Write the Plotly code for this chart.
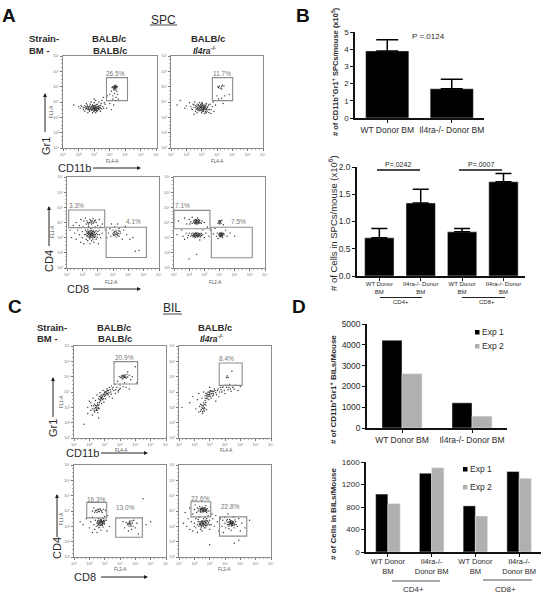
import plotly.graph_objects as go

# ---------- bar data ----------
b1_labels = ["WT Donor BM", "Il4ra-/- Donor BM"]
b1_values = [3.9, 1.7]
b1_err = [0.65, 0.55]
b1_ticks = [0, 1, 2, 3, 4, 5]

b2_labels = ["WT Donor<br>BM", "Il4ra-/- Donor<br>BM", "WT Donor<br>BM", "Il4ra-/- Donor<br>BM"]
b2_values = [0.70, 1.34, 0.81, 1.73]
b2_err = [0.17, 0.25, 0.06, 0.15]
b2_ticks = [0.0, 0.5, 1.0, 1.5, 2.0]

d1_labels = ["WT Donor BM", "Il4ra-/- Donor BM"]
d1_exp1 = [4220, 1210]
d1_exp2 = [2610, 570]
d1_ticks = [0, 1000, 2000, 3000, 4000, 5000]

d2_labels = ["WT Donor<br>BM", "Il4ra-/-<br>Donor BM", "WT Donor<br>BM", "Il4ra-/-<br>Donor BM"]
d2_exp1 = [1030, 1400, 820, 1430]
d2_exp2 = [860, 1500, 640, 1310]
d2_ticks = [0, 400, 800, 1200, 1600]

# ---------- flow cytometry events (log10 units) ----------
A1 = [(1.7,3.8),(2.0,3.7),(2.1,3.6),(2.2,3.7),(2.3,3.5),(2.35,3.65),(2.4,3.75),(2.45,3.55),(2.5,3.65),(2.55,3.8),(2.6,3.5),(2.6,3.6),(2.65,3.7),(2.7,3.4),(2.7,3.55),(2.75,3.65),(2.75,3.85),(2.8,3.6),(2.85,3.5),(2.85,3.7),(2.9,3.3),(2.9,3.6),(2.9,3.8),(2.95,3.55),(2.95,3.65),(3.0,3.45),(3.0,3.6),(3.0,3.7),(3.0,3.95),(3.05,3.5),(3.05,3.65),(3.1,3.55),(3.1,3.75),(3.1,4.1),(3.15,3.6),(3.15,3.4),(3.2,3.7),(3.2,3.85),(3.25,3.5),(3.3,3.65),(3.3,4.0),(3.35,3.75),(3.4,3.6),(3.45,3.9),(3.5,4.1),(3.55,3.7),(3.6,4.3),(3.7,3.85),(3.8,3.6),(3.85,4.4),(4.0,3.9),(4.1,3.5),(4.0,4.5),(4.1,4.7),(4.15,4.95),(4.2,5.0),(4.25,4.85),(4.3,5.0),(4.3,4.9),(4.35,5.05),(4.35,4.95),(4.4,4.8),(4.4,5.1),(4.45,4.95),(4.5,5.0),(4.2,4.4),(4.4,4.3),(4.35,4.1),(4.5,4.5),(4.25,3.8),(2.5,3.9),(2.8,4.0),(2.6,3.3),(3.1,3.3),(2.4,3.4),(3.4,3.4),(3.0,4.2),(2.65,3.55),(2.95,3.75),(3.1,3.62)]
A1_core = [(2.52,3.58),(2.58,3.72),(2.63,3.62),(2.68,3.48),(2.72,3.74),(2.77,3.52),(2.82,3.68),(2.83,3.44),(2.87,3.6),(2.88,3.78),(2.92,3.48),(2.93,3.7),(2.97,3.6),(2.98,3.38),(3.02,3.53),(3.02,3.78),(3.04,3.58),(3.06,3.44),(3.08,3.68),(3.09,3.5),(3.12,3.6),(3.13,3.82),(3.14,3.47),(3.17,3.67),(3.18,3.54),(3.22,3.6),(3.23,3.43),(3.27,3.72),(3.28,3.58),(3.33,3.52),(3.37,3.66),(3.42,3.78),(3.48,3.55),(3.6,3.6),(3.65,3.95),(2.45,3.7),(2.3,3.62),(2.15,3.78),(4.22,4.93),(4.27,5.03),(4.32,4.96),(4.33,5.08),(4.37,5.0),(4.38,4.9),(4.42,5.02),(4.28,4.78),(4.45,4.7),(4.3,4.55),(4.2,4.2),(4.55,4.2)]
A2 = [(1.4,3.8),(1.6,4.1),(1.9,3.6),(2.0,3.75),(2.2,3.95),(2.3,3.7),(2.4,3.5),(2.45,3.85),(2.5,3.65),(2.55,4.0),(2.6,3.4),(2.6,3.75),(2.65,3.55),(2.7,3.85),(2.7,3.3),(2.75,3.65),(2.8,3.5),(2.8,3.8),(2.85,3.95),(2.85,3.6),(2.9,3.45),(2.9,3.7),(2.95,3.85),(2.95,3.55),(3.0,3.3),(3.0,3.65),(3.0,3.75),(3.05,3.5),(3.05,3.9),(3.1,3.6),(3.1,3.7),(3.1,3.4),(3.15,3.8),(3.15,3.55),(3.2,3.65),(3.2,3.25),(3.25,3.75),(3.25,3.5),(3.3,3.9),(3.3,3.6),(3.35,3.4),(3.4,3.7),(3.5,3.5),(3.55,3.85),(3.7,3.7),(3.8,3.4),(3.9,3.8),(3.75,4.0),(4.1,4.2),(4.3,4.25),(4.0,4.4),(4.5,4.4),(4.8,4.5),(4.4,3.9),(4.05,5.0),(4.1,4.95),(4.15,5.05),(4.2,4.9),(4.3,5.0),(4.35,5.1),(4.45,5.05),(4.3,4.85),(3.3,3.3),(2.5,3.2),(3.6,3.25),(3.0,3.95)]
A2_core = [(2.62,3.62),(2.68,3.72),(2.72,3.48),(2.74,3.58),(2.78,3.76),(2.82,3.62),(2.83,3.42),(2.87,3.74),(2.88,3.52),(2.92,3.64),(2.93,3.8),(2.97,3.46),(2.98,3.7),(3.02,3.56),(3.03,3.82),(3.04,3.38),(3.07,3.66),(3.08,3.5),(3.09,3.76),(3.12,3.56),(3.13,3.46),(3.14,3.68),(3.17,3.6),(3.18,3.74),(3.22,3.52),(3.23,3.62),(3.24,3.36),(3.27,3.68),(3.28,3.8),(3.32,3.5),(3.37,3.62),(3.42,3.52),(3.45,3.8),(3.47,3.32),(2.5,3.8),(2.35,3.55),(3.62,3.5)]
A3 = [(1.2,3.5),(1.3,3.0),(1.4,3.8),(1.5,3.3),(1.6,4.0),(1.6,2.9),(1.7,3.5),(1.8,3.2),(1.8,3.8),(1.9,2.7),(1.9,4.2),(2.0,3.4),(2.0,3.0),(2.05,3.7),(2.1,4.1),(2.1,2.6),(2.15,3.2),(2.2,3.5),(2.2,4.3),(2.25,2.9),(2.25,3.9),(2.3,3.3),(2.3,3.1),(2.3,4.1),(2.35,3.5),(2.35,2.8),(2.4,3.2),(2.4,3.35),(2.4,3.75),(2.45,3.0),(2.45,3.25),(2.45,4.0),(2.5,3.1),(2.5,3.3),(2.5,3.45),(2.5,4.2),(2.5,2.6),(2.55,3.2),(2.55,3.0),(2.55,3.6),(2.6,3.3),(2.6,3.15),(2.6,4.05),(2.6,2.8),(2.65,3.4),(2.65,3.25),(2.7,3.05),(2.7,3.5),(2.7,3.95),(2.7,4.25),(2.75,3.2),(2.75,2.7),(2.8,3.35),(2.8,3.0),(2.8,4.1),(2.85,3.7),(2.85,3.2),(2.9,3.45),(2.9,2.9),(2.9,4.0),(3.0,3.2),(3.0,3.8),(3.05,2.6),(3.1,3.5),(3.1,4.2),(3.2,3.0),(3.2,3.7),(3.3,3.3),(3.3,3.9),(3.5,3.5),(3.6,3.0),(3.7,3.3),(3.8,3.6),(3.85,3.1),(3.9,3.9),(4.0,3.3),(4.0,3.5),(4.05,3.15),(4.1,3.4),(4.1,3.7),(4.15,3.25),(4.2,3.05),(4.2,3.5),(4.25,3.35),(4.3,3.2),(4.3,3.9),(4.35,3.45),(4.4,3.1),(4.4,3.6),(4.5,3.3),(4.6,2.9),(4.7,3.5),(4.9,3.2),(5.1,2.9),(5.3,3.0),(5.45,2.1),(5.7,2.15),(4.8,3.75)]
A3_core = [(2.22,3.22),(2.27,3.4),(2.32,3.15),(2.33,3.28),(2.37,3.38),(2.38,3.05),(2.42,3.24),(2.43,3.42),(2.47,3.12),(2.47,3.3),(2.48,2.92),(2.52,3.22),(2.52,3.38),(2.53,3.08),(2.57,3.28),(2.57,3.12),(2.58,3.48),(2.62,3.2),(2.62,3.36),(2.63,3.02),(2.67,3.14),(2.67,3.3),(2.68,2.9),(2.72,3.24),(2.72,3.42),(2.73,3.1),(2.77,3.32),(2.78,3.05),(2.82,3.2),(2.83,3.4),(2.87,3.1),(2.92,3.28),(2.97,3.02),(3.02,3.4),(3.12,3.2),(2.35,4.0),(2.4,3.9),(2.55,4.12),(2.6,3.9),(2.65,4.1),(2.75,4.02),(2.85,4.15),(2.5,3.98),(4.02,3.22),(4.08,3.32),(4.12,3.18),(4.18,3.4),(4.22,3.22),(4.28,3.3),(4.32,3.12),(4.38,3.28),(4.45,3.42)]
A4 = [(1.2,3.2),(1.3,4.1),(1.5,3.5),(1.6,3.1),(1.7,4.3),(1.7,2.9),(1.8,3.3),(1.85,3.9),(1.9,3.0),(1.95,3.15),(2.0,4.2),(2.0,3.3),(2.05,3.9),(2.1,3.1),(2.1,4.05),(2.15,3.25),(2.2,3.15),(2.2,3.95),(2.2,4.35),(2.25,3.05),(2.25,3.3),(2.3,4.1),(2.3,3.2),(2.35,3.95),(2.35,3.1),(2.4,4.2),(2.4,3.25),(2.4,3.0),(2.45,4.05),(2.45,3.9),(2.45,3.35),(2.5,3.15),(2.5,4.15),(2.5,3.95),(2.55,3.2),(2.55,3.05),(2.55,4.3),(2.6,4.05),(2.6,3.3),(2.65,3.15),(2.65,3.95),(2.7,4.15),(2.7,3.2),(2.7,2.85),(2.75,3.05),(2.8,3.95),(2.8,3.3),(2.85,4.1),(2.9,3.2),(2.9,3.5),(3.0,3.0),(3.0,4.0),(3.1,3.3),(3.2,3.7),(3.3,3.1),(3.4,3.5),(3.6,3.25),(3.7,3.6),(3.8,3.1),(3.85,3.3),(3.9,3.95),(3.9,2.95),(3.95,3.2),(3.95,4.1),(4.0,3.3),(4.0,3.9),(4.0,3.05),(4.05,3.15),(4.05,4.05),(4.1,3.25),(4.1,3.35),(4.1,3.95),(4.1,3.1),(4.15,3.2),(4.15,4.15),(4.2,3.3),(4.2,3.0),(4.25,3.85),(4.3,3.2),(4.4,3.5),(4.5,3.1),(4.7,3.3),(5.0,3.1),(2.0,1.6),(2.5,1.9)]
A4_core = [(2.32,4.02),(2.37,4.12),(2.42,3.98),(2.43,4.1),(2.47,4.18),(2.48,4.02),(2.52,4.08),(2.53,3.9),(2.57,4.14),(2.58,3.98),(2.62,4.2),(2.63,4.0),(2.67,4.08),(2.72,3.98),(2.27,3.15),(2.32,3.28),(2.33,3.08),(2.37,3.22),(2.38,3.14),(2.42,3.3),(2.43,3.1),(2.47,3.18),(2.48,3.26),(2.52,3.06),(2.53,3.22),(2.57,3.12),(2.58,3.3),(2.62,3.18),(2.63,3.08),(2.67,3.26),(2.72,3.12),(2.77,3.24),(2.82,3.14),(3.98,3.24),(4.02,3.14),(4.03,3.28),(4.07,3.2),(4.08,3.08),(4.12,3.28),(4.13,3.16),(4.17,3.08),(4.18,3.24),(4.22,3.16),(4.27,3.28),(3.97,4.02),(4.02,4.12),(4.03,3.98),(4.08,4.08)]
C1 = [(1.9,2.6),(1.9,3.0),(2.0,3.4),(2.1,2.8),(2.15,3.1),(2.2,2.5),(2.25,3.6),(2.3,2.9),(2.35,3.2),(2.35,2.7),(2.4,3.0),(2.4,3.45),(2.45,2.8),(2.5,3.1),(2.5,2.95),(2.5,3.8),(2.55,2.65),(2.55,3.3),(2.6,3.0),(2.6,3.55),(2.65,3.7),(2.65,2.9),(2.7,3.4),(2.7,3.95),(2.75,3.6),(2.75,3.75),(2.8,3.25),(2.8,3.65),(2.85,3.5),(2.9,3.8),(2.9,4.1),(2.95,3.35),(3.0,3.7),(3.0,3.95),(3.05,3.55),(3.1,4.05),(3.1,3.85),(3.15,4.2),(3.2,3.9),(3.25,4.1),(3.3,3.7),(3.3,4.3),(3.4,4.0),(3.45,4.4),(3.5,3.6),(3.6,4.1),(3.65,4.5),(3.7,3.9),(3.8,4.3),(3.85,4.7),(3.9,4.1),(3.95,5.0),(4.0,4.45),(4.05,4.95),(4.1,5.05),(4.15,4.85),(4.2,5.0),(4.25,5.1),(4.3,4.95),(4.35,5.05),(4.4,4.9),(4.45,5.15),(4.5,5.3),(4.4,4.3),(4.3,4.6),(4.7,4.8),(4.8,5.0),(5.1,4.6),(5.0,5.65),(4.6,4.2),(1.65,1.9),(2.1,3.3),(3.5,4.2),(2.6,2.3)]
C1_core = [(2.2,2.9),(2.28,3.1),(2.32,2.78),(2.38,2.95),(2.42,3.12),(2.46,2.86),(2.48,3.02),(2.52,2.8),(2.54,3.18),(2.58,2.92),(2.62,3.14),(2.66,3.3),(2.68,3.52),(2.72,3.68),(2.74,3.46),(2.78,3.58),(2.82,3.8),(2.84,3.62),(2.88,3.7),(2.92,3.56),(2.94,3.88),(2.98,3.82),(3.02,4.02),(3.06,3.78),(3.08,3.95),(3.14,3.92),(3.18,4.08),(3.22,3.82),(3.28,3.95),(3.36,4.15),(3.42,3.85),(3.55,4.3),(3.72,4.15),(3.88,4.0),(3.98,4.18),(4.12,4.98),(4.18,5.08),(4.22,4.92),(4.28,5.02),(4.32,5.12),(4.38,4.98),(4.5,4.98),(4.6,5.1),(4.2,4.35),(4.02,4.25)]
C2 = [(1.2,3.0),(1.7,3.3),(1.9,3.7),(2.1,2.9),(2.2,3.5),(2.3,2.7),(2.3,3.9),(2.4,3.2),(2.45,2.85),(2.5,3.0),(2.5,3.6),(2.55,2.6),(2.55,3.1),(2.6,2.9),(2.6,3.3),(2.6,4.0),(2.65,3.0),(2.65,2.75),(2.7,3.45),(2.7,3.75),(2.75,3.15),(2.75,3.9),(2.8,3.6),(2.8,2.85),(2.85,3.8),(2.9,4.0),(2.95,3.5),(3.0,3.75),(3.0,3.85),(3.05,4.1),(3.1,3.6),(3.15,3.9),(3.2,4.05),(3.25,3.8),(3.3,4.2),(3.4,3.95),(3.5,4.1),(3.6,3.7),(3.7,4.3),(3.8,4.0),(3.9,4.4),(4.0,3.9),(4.1,4.3),(4.2,4.15),(4.3,4.5),(4.4,4.05),(4.5,4.3),(4.6,4.2),(4.7,4.45),(4.85,4.1),(5.0,4.35),(4.1,4.95),(4.15,5.05),(4.2,4.95),(4.45,5.35),(3.4,3.4),(3.0,4.3)]
C2_core = [(2.35,3.05),(2.42,2.75),(2.48,3.15),(2.52,2.92),(2.54,2.72),(2.58,3.08),(2.62,2.82),(2.64,3.18),(2.68,2.92),(2.72,3.6),(2.74,3.3),(2.78,3.78),(2.82,3.92),(2.84,3.68),(2.88,3.55),(2.92,3.82),(2.94,3.7),(2.98,3.95),(3.02,4.02),(3.06,3.7),(3.08,3.88),(3.12,4.05),(3.18,3.75),(3.22,3.92),(3.28,4.05),(3.35,4.1),(3.45,3.82),(3.55,4.2),(3.65,4.0),(3.75,4.15),(3.85,4.3),(3.95,4.1),(4.05,4.45),(4.25,4.3),(4.35,4.2),(4.55,4.4)]
C3 = [(1.4,3.3),(1.6,3.1),(1.8,3.5),(2.0,2.9),(2.1,3.3),(2.2,2.6),(2.2,3.6),(2.3,3.1),(2.35,2.8),(2.4,3.4),(2.45,3.0),(2.5,3.2),(2.5,2.6),(2.5,3.9),(2.55,3.35),(2.55,4.1),(2.6,3.1),(2.6,2.9),(2.6,3.5),(2.65,3.25),(2.65,3.95),(2.7,3.05),(2.7,3.35),(2.7,3.15),(2.75,3.45),(2.75,3.25),(2.75,2.75),(2.8,3.1),(2.8,3.4),(2.8,4.0),(2.85,3.3),(2.85,3.2),(2.9,3.5),(2.9,2.95),(2.95,3.3),(3.0,3.15),(3.0,3.65),(3.05,4.05),(3.1,3.4),(3.15,2.7),(2.2,4.0),(2.3,4.2),(2.45,4.05),(2.7,4.15),(2.85,3.9),(3.2,3.7),(3.3,3.0),(4.2,3.3),(4.3,2.9),(4.4,3.25),(4.5,3.1),(4.55,2.7),(4.6,3.2),(4.6,3.0),(4.65,3.35),(4.7,3.1),(4.75,2.8),(4.8,3.2),(4.85,3.0),(4.9,3.4),(5.0,2.9),(5.1,3.2),(5.2,2.5),(5.7,3.1),(5.5,4.8),(6.0,3.3)]
C3_core = [(2.52,3.28),(2.58,3.18),(2.62,3.38),(2.64,3.28),(2.68,3.22),(2.72,3.42),(2.74,3.3),(2.76,3.12),(2.78,3.36),(2.82,3.24),(2.83,3.32),(2.87,3.14),(2.88,3.26),(2.92,3.38),(2.94,3.2),(2.98,3.28),(3.02,3.4),(2.55,3.05),(2.68,2.95),(2.84,3.05),(2.4,4.02),(2.58,3.98),(2.62,4.1),(2.75,4.05),(2.9,4.12),(2.35,3.92),(4.52,3.2),(4.58,3.12),(4.62,3.28),(4.68,3.22),(4.72,3.02),(4.78,3.35)]
C4 = [(1.3,3.2),(1.4,3.9),(1.5,3.0),(1.6,3.5),(1.7,4.2),(1.7,2.8),(1.8,3.3),(1.9,3.8),(1.9,2.7),(2.0,4.1),(2.0,3.2),(2.0,3.0),(2.05,4.4),(2.1,3.5),(2.1,2.9),(2.15,3.9),(2.2,4.2),(2.2,3.1),(2.2,2.6),(2.25,3.3),(2.25,4.0),(2.3,4.15),(2.3,3.0),(2.3,3.6),(2.35,3.2),(2.35,4.3),(2.4,3.95),(2.4,3.1),(2.4,2.8),(2.4,4.1),(2.45,3.3),(2.45,4.2),(2.45,3.0),(2.5,4.05),(2.5,3.15),(2.5,3.25),(2.5,4.15),(2.5,2.7),(2.55,3.95),(2.55,3.1),(2.55,3.35),(2.55,4.25),(2.6,4.1),(2.6,3.2),(2.6,3.0),(2.6,3.5),(2.65,4.0),(2.65,3.3),(2.65,4.2),(2.65,2.9),(2.7,4.1),(2.7,3.15),(2.7,3.4),(2.7,3.6),(2.75,4.05),(2.75,3.25),(2.75,4.35),(2.8,3.5),(2.8,3.9),(2.8,3.05),(2.85,4.15),(2.85,3.35),(2.9,3.7),(2.9,3.2),(2.95,4.0),(3.0,3.4),(3.0,2.8),(3.05,4.25),(3.1,3.1),(3.15,3.8),(3.2,3.5),(3.3,3.0),(3.4,3.7),(3.5,3.3),(3.6,2.7),(3.7,3.5),(3.8,3.0),(3.85,3.4),(3.9,2.6),(4.0,3.2),(4.0,3.6),(4.05,2.9),(4.1,3.35),(4.15,3.1),(4.2,3.25),(4.2,3.8),(4.25,3.0),(4.3,3.15),(4.3,3.45),(4.35,3.25),(4.35,3.3),(4.4,3.1),(4.4,3.2),(4.4,2.75),(4.45,3.35),(4.45,3.15),(4.5,3.25),(4.5,3.05),(4.55,3.3),(4.55,3.6),(4.6,3.15),(4.6,2.9),(4.7,3.3),(4.8,3.0),(4.9,3.5),(5.0,2.7),(5.1,3.2),(5.3,2.9),(5.6,3.4),(4.6,1.9),(3.0,1.8),(4.9,2.1)]
C4_core = [(2.38,4.02),(2.42,4.15),(2.44,3.92),(2.48,4.1),(2.52,4.0),(2.54,4.18),(2.58,4.05),(2.62,3.95),(2.63,4.15),(2.68,4.05),(2.72,4.2),(2.74,3.98),(2.78,4.1),(2.82,4.0),(2.33,3.1),(2.37,3.3),(2.42,3.2),(2.44,3.05),(2.48,3.35),(2.52,3.12),(2.53,3.22),(2.57,3.28),(2.58,3.02),(2.62,3.14),(2.63,3.32),(2.68,3.1),(2.72,3.28),(2.74,3.04),(2.78,3.2),(2.82,3.36),(2.88,3.1),(2.94,3.28),(2.25,3.45),(2.45,2.9),(2.75,2.9),(3.0,3.1),(4.22,3.12),(4.27,3.32),(4.32,3.22),(4.33,3.08),(4.37,3.18),(4.38,3.38),(4.42,3.24),(4.43,3.02),(4.47,3.18),(4.48,3.3),(4.52,3.14),(4.57,3.22),(4.62,3.08),(4.65,3.42),(4.72,3.12),(4.15,3.45),(4.25,2.85)]

flow_ticks = [1, 2, 3, 4, 5, 6, 7]
flow_ticktext = ["10¹", "10²", "10³", "10⁴", "10⁵", "10⁶", "10⁷"]

flow_panels = [
    (A1 + A1_core, (63, 156.5, 56, 148), [(3.79, 5.14, 4.09, 5.59)]),
    (A2 + A2_core, (171, 263, 56, 148), [(3.70, 5.02, 4.09, 5.59)]),
    (A3 + A3_core, (67, 159, 177, 268), [(1.11, 3.46, 3.66, 4.82), (3.55, 6.18, 1.69, 3.69)]),
    (A4 + A4_core, (174, 265, 177, 268), [(1.0, 3.37, 3.59, 4.80), (3.46, 6.16, 1.68, 3.69)]),
    (C1 + C1_core, (74, 166, 346, 438), [(3.61, 5.15, 4.52, 5.98)]),
    (C2 + C2_core, (179, 271, 346, 438), [(3.62, 5.12, 4.43, 5.89)]),
    (C3 + C3_core, (74, 166, 465, 557), [(1.83, 3.13, 3.55, 4.56), (3.72, 5.46, 2.29, 3.55)]),
    (C4 + C4_core, (179, 271, 465, 557), [(1.78, 3.07, 3.62, 4.60), (3.64, 5.42, 2.36, 3.62)]),
]

W, H = 552, 600
FONT = "Liberation Sans"
INK = "#2a2a2a"
GREY = "#8c8c8c"
BARGREY = "#b0b0b0"
px = lambda x: x / W
py = lambda y: 1 - y / H

fig = go.Figure()
layout = {}
shapes = []
ann = []
axis_n = 0


def new_axes(box):
    global axis_n
    axis_n += 1
    x0, x1, y0, y1 = box
    return axis_n, [px(x0), px(x1)], [py(y1), py(y0)]


def T(text, x, y, size=8, color=INK, angle=0, anchor="center"):
    ann.append(dict(text=text, x=px(x), y=py(y), xref="paper", yref="paper", showarrow=False,
                    font=dict(size=size, color=color, family=FONT), textangle=angle,
                    xanchor=anchor, yanchor="middle", borderpad=0))


def line(x0, y0, x1, y1, color="#222", width=1):
    shapes.append(dict(type="line", xref="paper", yref="paper", x0=px(x0), x1=px(x1),
                       y0=py(y0), y1=py(y1), line=dict(color=color, width=width)))


def arrow(x0, y0, x1, y1):
    line(x0, y0, x1, y1, "#222", 1)
    ux = (x1 > x0) - (x1 < x0)
    uy = (y1 > y0) - (y1 < y0)
    a = (x1 + ux, y1 + uy)
    b = (x1 - 3 * ux - 2 * uy, y1 - 3 * uy - 2 * ux)
    c = (x1 - 3 * ux + 2 * uy, y1 - 3 * uy + 2 * ux)
    path = "M {} {} L {} {} L {} {} Z".format(px(a[0]), py(a[1]), px(b[0]), py(b[1]), px(c[0]), py(c[1]))
    shapes.append(dict(type="path", xref="paper", yref="paper", path=path, fillcolor="#222", line=dict(width=0)))


# ---------- flow panels ----------
for events, box, gates in flow_panels:
    n, dx, dy = new_axes(box)
    fig.add_trace(go.Scatter(x=[e[0] for e in events], y=[e[1] for e in events], mode="markers",
                             xaxis=f"x{n}", yaxis=f"y{n}", showlegend=False, hoverinfo="skip",
                             marker=dict(size=1.4, color="#303030", line=dict(width=0))))
    common = dict(range=[1, 7], tickvals=flow_ticks, ticktext=flow_ticktext, ticks="outside", ticklen=2,
                  tickwidth=0.8, tickcolor="#777", tickfont=dict(size=4, color="#777", family=FONT),
                  showline=True, mirror=True, linecolor=GREY, linewidth=1.2, showgrid=False, zeroline=False,
                  automargin=False,
                  minor=dict(ticks="outside", ticklen=1, dtick=0.25, tickcolor="#aaa", tickwidth=0.5))
    layout[f"xaxis{n}"] = dict(domain=dx, anchor=f"y{n}", **common)
    layout[f"yaxis{n}"] = dict(domain=dy, anchor=f"x{n}", **common)
    for g in gates:
        shapes.append(dict(type="rect", xref=f"x{n}", yref=f"y{n}", x0=g[0], x1=g[1], y0=g[2], y1=g[3],
                           line=dict(color=GREY, width=1.1)))


# ---------- bar panels ----------
def bar_axes(box, xr, yr, xticks, xlabels, yticks, xsize, ysize, ticktext=None, standoff=0):
    n, dx, dy = new_axes(box)
    layout[f"xaxis{n}"] = dict(domain=dx, anchor=f"y{n}", range=xr, tickvals=xticks, ticktext=xlabels,
                               ticks="outside", ticklen=3, tickwidth=1, tickcolor="#111", showline=True,
                               linecolor="#111", linewidth=1.5, showgrid=False, zeroline=False, automargin=False,
                               ticklabelstandoff=standoff,
                               tickfont=dict(size=xsize, color=INK, family=FONT), tickangle=0)
    layout[f"yaxis{n}"] = dict(domain=dy, anchor=f"x{n}", range=yr, tickvals=yticks, ticktext=ticktext,
                               ticks="outside", ticklen=3, tickwidth=1, tickcolor="#111", showline=True,
                               linecolor="#111", linewidth=1.5, showgrid=False, zeroline=False, automargin=False,
                               tickfont=dict(size=ysize, color=INK, family=FONT))
    return n


n = bar_axes((355, 484, 32, 118), [-0.5, 1.5], [0, 5], [0, 1], b1_labels, b1_ticks, 8.5, 8)
fig.add_trace(go.Bar(x=[0, 1], y=b1_values, width=0.67, marker_color="#000", showlegend=False,
                     error_y=dict(type="data", symmetric=False, array=b1_err, arrayminus=[0, 0],
                                  color="#000", thickness=1.5, width=11),
                     xaxis=f"x{n}", yaxis=f"y{n}"))

n = bar_axes((357, 525, 167, 276), [-0.54, 3.52], [0, 2], [0, 1, 2, 3], b2_labels, b2_ticks, 6, 8.5,
             ["0.0", "0.5", "1.0", "1.5", "2.0"], standoff=-2)
fig.add_trace(go.Bar(x=[0, 1, 2, 3], y=b2_values, width=0.71, marker_color="#000", showlegend=False,
                     error_y=dict(type="data", symmetric=False, array=b2_err, arrayminus=[0, 0, 0, 0],
                                  color="#000", thickness=1.5, width=8),
                     xaxis=f"x{n}", yaxis=f"y{n}"))

n = bar_axes((367, 507, 324, 428), [-0.5, 1.5], [0, 5000], [0, 1], d1_labels, d1_ticks, 8.5, 8.5)
for vals, col, off in ((d1_exp1, "#000", -0.143), (d1_exp2, BARGREY, 0.143)):
    fig.add_trace(go.Bar(x=[i + off for i in range(2)], y=vals, width=0.286, marker_color=col,
                         showlegend=False, xaxis=f"x{n}", yaxis=f"y{n}"))

n = bar_axes((366, 541, 462, 552), [-0.21, 3.79], [0, 1600], [0.29, 1.29, 2.29, 3.29], d2_labels, d2_ticks, 7.5, 8,
             standoff=-2)
for vals, col, off in ((d2_exp1, "#000", 0.0), (d2_exp2, BARGREY, 0.28)):
    fig.add_trace(go.Bar(x=[i + off + 0.15 for i in range(4)], y=vals, width=0.28, marker_color=col,
                         showlegend=False, xaxis=f"x{n}", yaxis=f"y{n}"))

# ---------- panel letters and headings ----------
T("<b>A</b>", 9, 15, 19, "#111")
T("<b>B</b>", 303, 15, 19, "#111")
T("<b>C</b>", 15, 306, 19, "#111")
T("<b>D</b>", 299, 306, 19, "#111")
T("SPC", 163, 20, 12)
line(150, 25, 177, 25, "#444", 1)
T("BIL", 172, 308, 12)
line(163, 314, 182, 314, "#444", 1)

for left, y1, y2 in ((28, 38, 50), (36, 327, 339)):
    T("<b>Strain-</b>", left, y1, 9.5, anchor="left")
    T("<b>BM -</b>", left, y2, 9.5, anchor="left")
for x, y, s in ((109, 38, "BALB/c"), (110, 50, "BALB/c"), (208, 38, "BALB/c"),
                (114, 327, "BALB/c"), (115, 339, "BALB/c"), (215, 327, "BALB/c")):
    T(f"<b>{s}</b>", x, y, 9.5)
T("<b><i>Il4ra<sup>-/-</sup></i></b>", 204, 50, 8.5)
T("<b><i>Il4ra<sup>-/-</sup></i></b>", 211, 339, 8.5)

# ---------- gate percentages ----------
for s, x, y in (("26.5%", 115, 74), ("11.7%", 222, 74), ("3.3%", 76, 206), ("4.1%", 133, 221),
                ("7.1%", 182, 206), ("7.5%", 238, 221), ("20.9%", 124, 357), ("8.4%", 226, 358),
                ("16.3%", 96, 499), ("13.0%", 125, 507), ("22.6%", 200, 498), ("22.8%", 230, 506)):
    T(s, x, y, 6.5, "#777")

# ---------- channel labels ----------
for s, x, y in (("FL4-A", 112, 161), ("FL4-A", 217, 161), ("FL2-A", 111, 282), ("FL2-A", 215, 282),
                ("FL4-A", 121, 450), ("FL4-A", 226, 450), ("FL2-A", 120, 569), ("FL2-A", 224, 569)):
    T(s, x, y, 4.5, "#555")
for x, y in ((52, 112), (52, 232), (61, 402), (61, 519)):
    T("FL1-A", x, y, 4.5, "#555", angle=-90)

# ---------- marker names with arrows ----------
T("Gr1", 46, 146, 11, angle=-90)
arrow(45, 132, 45, 94)
T("CD11b", 74, 168, 11)
arrow(93, 168, 140, 168)
T("CD4", 49, 261, 11, angle=-90)
arrow(49, 246, 49, 207)
T("CD8", 78, 289, 11)
arrow(93, 289, 140, 289)
T("Gr1", 53, 428, 11, angle=-90)
arrow(53, 417, 53, 378)
T("CD11b", 82, 453, 11)
arrow(101, 453, 147, 453)
T("CD4", 57, 548, 11, angle=-90)
arrow(57, 537, 57, 495)
T("CD8", 85, 577, 11)
arrow(101, 577, 147, 577)

# ---------- bar titles and annotations ----------
T("<b># of CD11b<sup>+</sup>Gr1<sup>+</sup> SPCs/mouse (x10<sup>5</sup>)</b>", 335, 72, 7.5, angle=-90)
T("# of Cells in SPCs/mouse (x10<sup>6</sup>)", 333, 223, 9.5, angle=-90)
T("<b># of CD11b<sup>+</sup>Gr1<sup>+</sup> BILs/Mouse</b>", 333, 390, 8, angle=-90)
T("<b># of Cells in BILs/Mouse</b>", 333, 514, 8, angle=-90)
T("P =.0124", 428, 36, 8)
T("P=.0242", 398, 164, 7)
T("P=.0007", 481, 164, 7)
line(377, 170, 420, 170, "#111", 1.5)
line(459, 170, 502, 170, "#111", 1.5)
line(380, 297.5, 422, 297.5)
line(462, 297.5, 505, 297.5)
T("CD4+", 401, 302, 6)
T("CD8+", 487, 302, 6)
line(392, 581, 440, 581, "#555")
line(483, 580, 532, 580, "#555")
T("CD4+", 413, 589, 8)
T("CD8+", 505, 589, 8)

# ---------- hand-made legends ----------
for sq, ty, col, s, lx in ((332, 332, "#000", "Exp 1", 478), (346, 346, BARGREY, "Exp 2", 478),
                           (469, 469, "#000", "Exp 1", 466), (487, 487, BARGREY, "Exp 2", 466)):
    shapes.append(dict(type="rect", xref="paper", yref="paper", x0=px(lx - 3), x1=px(lx + 1.5),
                       y0=py(sq + 2.5), y1=py(sq - 2), fillcolor=col, line=dict(width=0)))
    T(s, lx + 3, ty, 8.5, anchor="left")

layout.update(width=W, height=H, margin=dict(l=0, r=0, t=0, b=0), paper_bgcolor="white",
              plot_bgcolor="white", shapes=shapes, annotations=ann, barmode="overlay", showlegend=False,
              font=dict(family=FONT))
fig.update_layout(**layout)
fig.write_html("out.html", config={"displayModeBar": False},
               post_script="document.body.style.margin='0';")
